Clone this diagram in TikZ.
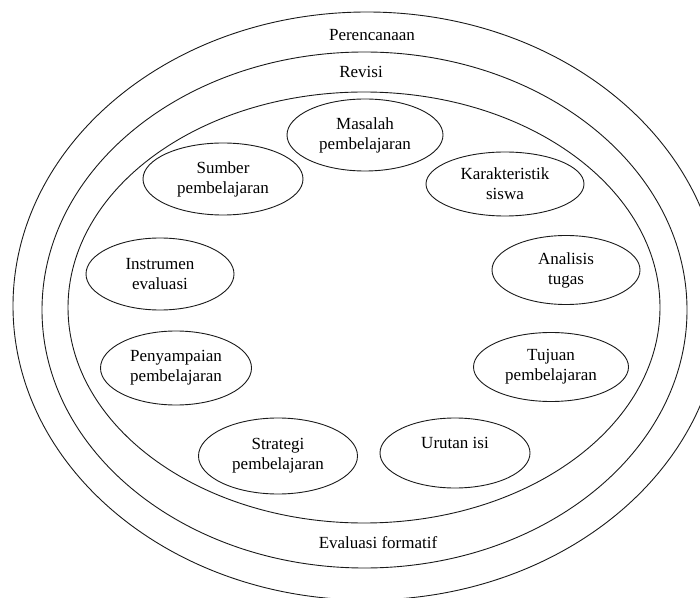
\documentclass[tikz,border=0pt]{standalone}
\usepackage{fontspec}
\setmainfont{Liberation Serif}
\usepackage{tikz}
\tikzset{>=latex}
\usetikzlibrary{shapes.geometric}
\definecolor{ring}{HTML}{1A1A1A}
\tikzset{
    stage/.style={ellipse, draw=ring, line width=0.9pt, inner sep=0pt, align=center,
        font=\fontsize{17}{20}\selectfont},
    ringlabel/.style={font=\fontsize{17}{20}\selectfont}
}

\begin{document}
\begin{tikzpicture}[x=1pt, y=1pt]
                \useasboundingbox (0, 0) rectangle (700, 597);
                \draw[ring, line width=0.9pt] (367, 291) ellipse [x radius=354, y radius=294];
                \draw[ring, line width=0.9pt] (364.5, 287) ellipse [x radius=322.5, y radius=258];
                \draw[ring, line width=0.9pt] (364, 289.5) ellipse [x radius=296, y radius=215.5];
                \node[ringlabel] (plan) at (372, 562) {Perencanaan};
                \node[ringlabel] (rev) at (361, 525) {Revisi};
                \node[ringlabel] (formatif) at (378, 54) {Evaluasi formatif};
                \node[stage, minimum width=156, minimum height=72] (masalah) at (365, 462) {Masalah\\pembelajaran};
                \node[stage, minimum width=158, minimum height=64] (siswa) at (505, 413) {Karakteristik\\siswa};
                \node[stage, minimum width=148, minimum height=69] (tugas) at (566, 327) {Analisis\\tugas};
                \node[stage, minimum width=155, minimum height=69] (tujuan) at (551, 230) {Tujuan\\pembelajaran};
                \node[stage, minimum width=150, minimum height=70] (urutan) at (455, 144) {Urutan isi\\\mbox{}};
                \node[stage, minimum width=159, minimum height=76] (strategi) at (278, 141) {Strategi\\pembelajaran};
                \node[stage, minimum width=151, minimum height=74] (penyampaian) at (176, 229) {Penyampaian\\pembelajaran};
                \node[stage, minimum width=148, minimum height=72] (instrumen) at (160, 323) {Instrumen\\evaluasi};
                \node[stage, minimum width=160, minimum height=72] (sumber) at (223, 418) {Sumber\\pembelajaran};
            \end{tikzpicture}
\end{document}
